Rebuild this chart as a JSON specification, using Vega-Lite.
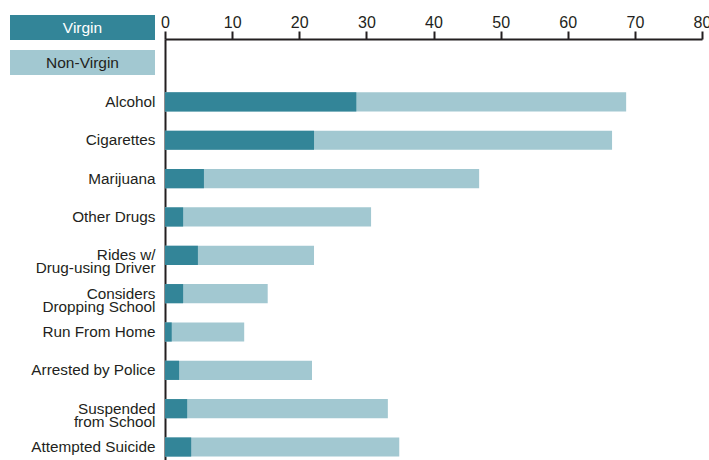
{
  "$schema": "https://vega.github.io/schema/vega-lite/v6.json",
  "width": 537,
  "height": 421,
  "autosize": {"type": "none"},
  "padding": {"left": 165, "top": 39, "right": 7, "bottom": 0},
  "config": {
    "view": {"stroke": null},
    "font": "Liberation Sans, Arial, sans-serif"
  },
  "data": {
    "values": [
      {"behavior": "Alcohol", "group": "Non-Virgin", "percent": 68.7},
      {"behavior": "Cigarettes", "group": "Non-Virgin", "percent": 66.6},
      {"behavior": "Marijuana", "group": "Non-Virgin", "percent": 46.8},
      {"behavior": "Other Drugs", "group": "Non-Virgin", "percent": 30.7},
      {"behavior": "Rides w/\nDrug-using Driver", "group": "Non-Virgin", "percent": 22.2},
      {"behavior": "Considers\nDropping School", "group": "Non-Virgin", "percent": 15.3},
      {"behavior": "Run From Home", "group": "Non-Virgin", "percent": 11.8},
      {"behavior": "Arrested by Police", "group": "Non-Virgin", "percent": 21.9},
      {"behavior": "Suspended\nfrom School", "group": "Non-Virgin", "percent": 33.2},
      {"behavior": "Attempted Suicide", "group": "Non-Virgin", "percent": 34.9},
      {"behavior": "Alcohol", "group": "Virgin", "percent": 28.5},
      {"behavior": "Cigarettes", "group": "Virgin", "percent": 22.2},
      {"behavior": "Marijuana", "group": "Virgin", "percent": 5.8},
      {"behavior": "Other Drugs", "group": "Virgin", "percent": 2.7},
      {"behavior": "Rides w/\nDrug-using Driver", "group": "Virgin", "percent": 4.9},
      {"behavior": "Considers\nDropping School", "group": "Virgin", "percent": 2.7},
      {"behavior": "Run From Home", "group": "Virgin", "percent": 1.0},
      {"behavior": "Arrested by Police", "group": "Virgin", "percent": 2.1},
      {"behavior": "Suspended\nfrom School", "group": "Virgin", "percent": 3.3},
      {"behavior": "Attempted Suicide", "group": "Virgin", "percent": 3.9}
    ]
  },
  "mark": {"type": "bar"},
  "encoding": {
    "y": {
      "field": "behavior",
      "type": "nominal",
      "sort": null,
      "scale": {"paddingInner": 0.5, "paddingOuter": 0.74, "align": 0.94},
      "axis": {
        "title": null,
        "ticks": false,
        "domain": true,
        "domainColor": "#231f20",
        "domainWidth": 2,
        "labelPadding": 10,
        "labelFontSize": 15.3,
        "labelColor": "#231f20",
        "labelLimit": 300,
        "labelLineHeight": 13,
        "labelExpr": "split(datum.label, '\\n')"
      }
    },
    "x": {
      "field": "percent",
      "type": "quantitative",
      "stack": null,
      "scale": {"domain": [0, 80], "nice": false},
      "axis": {
        "orient": "top",
        "title": null,
        "grid": false,
        "values": [0, 10, 20, 30, 40, 50, 60, 70, 80],
        "labelFlush": false,
        "tickSize": 8,
        "tickWidth": 2,
        "tickColor": "#231f20",
        "domainColor": "#231f20",
        "domainWidth": 2,
        "labelPadding": 1,
        "labelFontSize": 16,
        "labelColor": "#231f20"
      }
    },
    "color": {
      "field": "group",
      "type": "nominal",
      "scale": {"domain": ["Virgin", "Non-Virgin"], "range": ["#338598", "#a2c8d1"]},
      "legend": {
        "orient": "none",
        "legendX": -155,
        "legendY": -24,
        "direction": "vertical",
        "title": null,
        "padding": 0,
        "rowPadding": 10,
        "symbolType": "M-5.8,-1H5.8V1H-5.8Z",
        "symbolSize": 625,
        "symbolStrokeWidth": 0,
        "symbolOpacity": 1,
        "symbolOffset": 60,
        "labelOffset": -12.5,
        "labelAlign": "center",
        "labelFontSize": 15.5,
        "labelLimit": 300,
        "encode": {
          "labels": {"update": {"fill": {"signal": "datum.value === 'Virgin' ? '#ffffff' : '#231f20'"}}}
        }
      }
    }
  }
}
